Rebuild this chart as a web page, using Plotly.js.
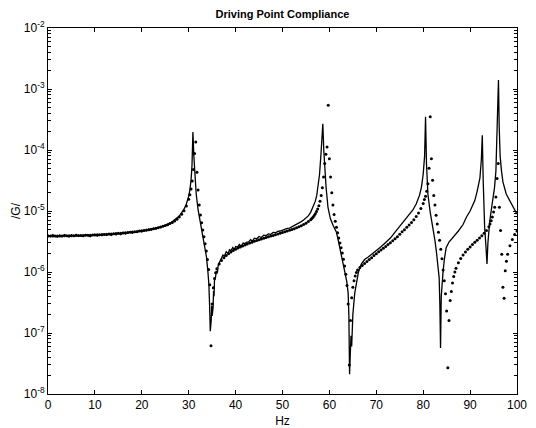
<!DOCTYPE html>
<html>
<head>
<meta charset="utf-8">
<script src="https://cdn.plot.ly/plotly-3.0.1.min.js"></script>
<style>html,body{margin:0;padding:0;background:#fff;}#chart{width:536px;height:428px;}</style>
</head>
<body>
<div id="chart"></div>
<script>
// Measured driving point compliance (solid line)
const measFreq = [0,0.5,1,1.5,2,2.5,3,3.5,4,4.5,5,5.5,6,6.5,7,7.5,8,8.5,9,9.5,10,10.5,11,11.5,12,12.5,13,13.5,14,14.5,15,15.5,16,16.5,17,17.5,18,18.5,19,19.5,20,20.5,21,21.5,22,22.5,23,23.5,24,24.5,25,25.5,26,26.5,27,27.5,28,28.5,29,29.5,29.75,30,30.25,30.5,30.7,30.9,31.1,31.3,31.6,32.0,32.3,32.7,33.0,33.4,33.8,34.1,34.3,34.45,34.6,34.8,34.9,35.0,35.2,35.3,35.4,35.5,35.7,35.9,36.1,36.3,36.6,36.9,37.3,37.6,38.0,38.4,38.7,39.0,39.4,39.7,40.0,40.4,40.8,41.2,41.6,42.0,42.4,42.8,43.2,43.6,44.0,44.5,45.0,45.5,46.0,46.5,47.0,47.5,48.0,48.5,49.0,49.5,50.0,50.5,51.0,51.5,52.0,52.5,53.0,53.5,54.0,54.5,55.0,55.5,56.0,56.5,57.0,57.3,57.6,57.9,58.2,58.4,58.6,58.8,59.0,59.3,59.7,60.2,60.8,61.5,62.0,62.5,62.9,63.3,63.7,64.0,64.15,64.3,64.45,64.6,64.75,65.0,65.4,65.8,66.2,66.8,67.5,68.2,69,70,71,72,73,74,75,76,77,77.8,78.5,79.2,79.6,80.0,80.3,80.5,80.7,81.0,81.5,82.1,82.5,82.8,83.1,83.4,83.55,83.7,83.85,84.0,84.2,84.5,84.9,85.5,86.4,87.5,88.5,89.2,90.0,90.5,91.0,91.5,92.1,92.4,92.6,92.8,93.1,93.4,93.6,93.8,94.2,94.7,95.2,95.5,95.7,95.9,96.05,96.2,96.4,96.7,97.0,97.7,98.8,100];
const measG = [4.05e-6,3.8e-6,4.1e-6,3.85e-6,3.75e-6,4.05e-6,3.82e-6,4.12e-6,3.88e-6,3.75e-6,4.08e-6,3.86e-6,4.15e-6,3.82e-6,4.02e-6,3.8e-6,4.12e-6,3.9e-6,3.78e-6,4.08e-6,4.15e-6,3.88e-6,4.12e-6,3.92e-6,4.22e-6,3.96e-6,4.2e-6,3.98e-6,4.28e-6,4.05e-6,4.33e-6,4.1e-6,4.45e-6,4.18e-6,4.4e-6,4.58e-6,4.33e-6,4.62e-6,4.45e-6,4.75e-6,4.55e-6,4.9e-6,4.7e-6,5.05e-6,4.88e-6,5.2e-6,5.08e-6,5.42e-6,5.35e-6,5.7e-6,5.75e-6,6.1e-6,6.25e-6,6.75e-6,7.05e-6,7.7e-6,8.25e-6,9.4e-6,1.07e-5,1.3e-5,1.5e-5,1.75e-5,2.2e-5,3.2e-5,5.5e-5,1.97e-4,8.0e-5,4.0e-5,1.9e-5,1.05e-5,7.9e-6,5.0e-6,3.7e-6,2.5e-6,1.74e-6,1.0e-6,6.3e-7,3.0e-7,1.07e-7,1.6e-7,2.8e-7,1.9e-7,2.6e-7,4.9e-7,4.0e-7,7.3e-7,8.0e-7,1.05e-6,0.95e-6,1.3e-6,1.45e-6,1.68e-6,1.9e-6,1.82e-6,2.15e-6,2.0e-6,2.32e-6,2.25e-6,2.52e-6,2.32e-6,2.62e-6,2.55e-6,2.82e-6,2.65e-6,2.98e-6,2.92e-6,3.1e-6,3.12e-6,3.4e-6,3.2e-6,3.58e-6,3.5e-6,3.82e-6,3.68e-6,4.02e-6,3.95e-6,4.22e-6,4.15e-6,4.45e-6,4.4e-6,4.65e-6,4.7e-6,4.88e-6,4.95e-6,5.18e-6,5.25e-6,5.5e-6,5.7e-6,5.95e-6,6.3e-6,6.7e-6,7.1e-6,7.6e-6,8.3e-6,9.5e-6,1.15e-5,1.45e-5,1.8e-5,2.6e-5,4.0e-5,8.5e-5,1.5e-4,2.7e-4,1.0e-4,4.8e-5,2.4e-5,1.15e-5,7.5e-6,5.8e-6,4.5e-6,3.0e-6,2.0e-6,1.35e-6,9.5e-7,7.0e-7,4.5e-7,2.0e-7,2.1e-8,5.0e-8,9.0e-8,6.0e-8,2.0e-7,4.5e-7,7.3e-7,1.0e-6,1.35e-6,1.6e-6,1.74e-6,1.95e-6,2.2e-6,2.6e-6,3.05e-6,3.6e-6,4.5e-6,5.6e-6,6.8e-6,8.4e-6,1.04e-5,1.3e-5,1.8e-5,2.4e-5,4.0e-5,8.0e-5,3.5e-4,6.0e-5,1.9e-5,9.5e-6,5.4e-6,3.3e-6,2.2e-6,1.4e-6,8.1e-7,3.0e-7,5.7e-8,4.0e-7,6.5e-7,9.3e-7,1.6e-6,2.5e-6,3.1e-6,3.7e-6,4.7e-6,6.0e-6,7.9e-6,1.0e-5,1.2e-5,1.48e-5,2.1e-5,3.5e-5,7.0e-5,1.74e-4,3.0e-5,5.4e-6,2.5e-6,1.35e-6,3.0e-6,6.9e-6,1.3e-5,2.4e-5,4.5e-5,1.26e-4,3.0e-4,1.4e-3,2.5e-4,8.0e-5,4.5e-5,3.0e-5,1.9e-5,1.3e-5,8.9e-6];

// Model compliance (dots)
const modelFreq = [0,0.5,1,1.5,2,2.5,3,3.5,4,4.5,5,5.5,6,6.5,7,7.5,8,8.5,9,9.5,10,10.5,11,11.5,12,12.5,13,13.5,14,14.5,15,15.5,16,16.5,17,17.5,18,18.5,19,19.5,20,20.5,21,21.5,22,22.5,23,23.5,24,24.5,25,25.5,26,26.5,27,27.5,28,28.5,29,29.5,
30,30.25,30.5,30.75,31,31.25,31.5,31.75,32,32.25,32.5,32.75,33,33.25,33.5,33.75,34,34.25,34.5,34.75,35,35.25,35.5,35.75,36,
36.5,37,37.5,38,38.5,39,39.5,40,40.5,41,41.5,42,42.5,43,43.5,44,44.5,45,45.5,46,46.5,47,47.5,48,48.5,49,49.5,50,50.5,51,51.5,52,52.5,53,53.5,54,54.5,55,55.5,56,
56.25,56.5,56.75,57,57.25,57.5,57.75,58,58.25,58.5,58.75,59,59.25,59.5,59.75,60,60.25,60.5,60.75,61,61.25,61.5,61.75,62,62.25,62.5,62.75,63,63.25,63.5,63.75,64,64.25,64.5,64.75,65,65.25,65.5,65.75,66,
66.5,67,67.5,68,68.5,69,69.5,70,70.5,71,71.5,72,72.5,73,73.5,74,74.5,75,75.5,76,76.5,77,77.5,78,78.5,79,79.5,80,
80.25,80.5,80.75,81,81.25,81.5,81.75,82,82.25,82.5,82.75,83,83.25,83.5,83.75,84,84.25,84.5,84.75,85,85.25,85.5,85.75,86,86.25,86.5,86.75,87,
87.5,88,88.5,89,89.5,90,90.5,91,91.5,92,92.5,93,93.5,94,
94.25,94.5,94.75,95,95.25,95.5,95.75,96,96.25,96.5,96.75,97,97.25,97.5,97.75,98,
98.5,99,99.5,100];
const modelG = [3.90e-6,3.90e-6,3.90e-6,3.90e-6,3.91e-6,3.91e-6,3.91e-6,3.92e-6,3.92e-6,3.93e-6,3.93e-6,3.94e-6,3.95e-6,3.96e-6,3.97e-6,3.98e-6,3.99e-6,4.00e-6,4.02e-6,4.03e-6,4.05e-6,4.07e-6,4.09e-6,4.11e-6,4.13e-6,4.16e-6,4.18e-6,4.21e-6,4.24e-6,4.27e-6,4.30e-6,4.33e-6,4.37e-6,4.40e-6,4.44e-6,4.48e-6,4.53e-6,4.58e-6,4.63e-6,4.68e-6,4.74e-6,4.80e-6,4.87e-6,4.94e-6,5.02e-6,5.11e-6,5.21e-6,5.32e-6,5.45e-6,5.60e-6,5.77e-6,5.97e-6,6.21e-6,6.50e-6,6.87e-6,7.35e-6,7.98e-6,8.85e-6,1.01e-5,1.21e-5,
1.56e-5,1.85e-5,2.3e-5,3.1e-5,4.8e-5,8.8e-5,1.35e-4,4.3e-5,2.2e-5,1.25e-5,8.6e-6,6.4e-6,4.9e-6,3.8e-6,2.9e-6,2.2e-6,1.6e-6,1.1e-6,6.2e-7,6.2e-8,3.0e-7,5.5e-7,7.8e-7,9.7e-7,1.13e-6,
1.35e-6,1.55e-6,1.72e-6,1.87e-6,2.0e-6,2.13e-6,2.25e-6,2.36e-6,2.47e-6,2.58e-6,2.68e-6,2.78e-6,2.88e-6,2.98e-6,3.08e-6,3.18e-6,3.28e-6,3.38e-6,3.48e-6,3.58e-6,3.68e-6,3.78e-6,3.88e-6,3.98e-6,4.09e-6,4.20e-6,4.31e-6,4.43e-6,4.55e-6,4.68e-6,4.82e-6,4.97e-6,5.13e-6,5.31e-6,5.51e-6,5.74e-6,6.0e-6,6.3e-6,6.7e-6,7.2e-6,
7.5e-6,7.9e-6,8.4e-6,9.0e-6,9.8e-6,1.08e-5,1.22e-5,1.45e-5,1.8e-5,2.4e-5,3.6e-5,6.0e-5,8.5e-5,1.12e-4,5.4e-4,7.2e-5,3.6e-5,2.0e-5,1.25e-5,8.8e-6,6.8e-6,5.4e-6,4.4e-6,3.6e-6,3.0e-6,2.5e-6,2.05e-6,1.62e-6,1.25e-6,9.2e-7,6.0e-7,3.0e-7,3.0e-8,1.6e-7,3.8e-7,5.6e-7,7.2e-7,8.6e-7,9.8e-7,1.08e-6,
1.18e-6,1.28e-6,1.38e-6,1.48e-6,1.6e-6,1.72e-6,1.86e-6,2.0e-6,2.15e-6,2.3e-6,2.46e-6,2.63e-6,2.82e-6,3.02e-6,3.24e-6,3.5e-6,3.8e-6,4.15e-6,4.55e-6,4.95e-6,5.4e-6,5.9e-6,6.5e-6,7.2e-6,8.1e-6,9.3e-6,1.1e-5,1.33e-5,
1.55e-5,1.75e-5,2.1e-5,2.8e-5,5.0e-5,3.5e-4,7.2e-5,3.2e-5,1.8e-5,1.25e-5,8.5e-6,6.1e-6,4.5e-6,3.3e-6,2.35e-6,1.65e-6,1.08e-6,7.2e-7,4.4e-7,2.3e-7,2.7e-8,1.6e-7,3.4e-7,4.8e-7,6.6e-7,8.4e-7,1.0e-6,1.15e-6,
1.42e-6,1.66e-6,1.9e-6,2.12e-6,2.35e-6,2.58e-6,2.82e-6,3.06e-6,3.32e-6,3.6e-6,3.92e-6,4.3e-6,4.8e-6,5.5e-6,
6.1e-6,6.9e-6,8.0e-6,9.6e-6,1.15e-5,1.7e-5,3.4e-5,6.0e-5,1.15e-5,4.8e-6,1.95e-6,5.6e-7,3.7e-7,1.05e-6,1.5e-6,1.95e-6,
2.7e-6,3.4e-6,4.1e-6,4.7e-6];

const xTickVals = [0,10,20,30,40,50,60,70,80,90,100];
const yTickVals = [1e-8,1e-7,1e-6,1e-5,1e-4,1e-3,1e-2];
const yTickText = ['10<sup>-8</sup>','10<sup>-7</sup>','10<sup>-6</sup>','10<sup>-5</sup>','10<sup>-4</sup>','10<sup>-3</sup>','10<sup>-2</sup>'];
const chartTitle = 'Driving Point Compliance';
const xLabel = 'Hz';
const yLabel = '/G/';

const FONT = 'Liberation Sans, Arial, Helvetica, sans-serif';

const traces = [
  {x: measFreq, y: measG, type: 'scatter', mode: 'lines',
   line: {color: '#000', width: 1.3}, hoverinfo: 'skip', showlegend: false},
  {x: modelFreq, y: modelG, type: 'scatter', mode: 'markers',
   marker: {color: '#000', size: 3, symbol: 'circle'}, hoverinfo: 'skip', showlegend: false}
];

const layout = {
  width: 536, height: 428,
  margin: {l: 48, r: 19, t: 28, b: 34, pad: 0},
  paper_bgcolor: '#fff', plot_bgcolor: '#fff',
  font: {family: FONT, color: '#000', size: 12},
  title: {text: '<b>' + chartTitle + '</b>', font: {size: 11, family: FONT, color: '#000'},
          x: 0.5, xref: 'paper', xanchor: 'center', y: 1 - 14/428, yref: 'container', yanchor: 'middle'},
  xaxis: {
    range: [0, 100], tickvals: xTickVals, ticktext: xTickVals.map(String),
    ticks: 'inside', ticklen: 4, tickcolor: '#000', tickwidth: 1,
    showline: true, linecolor: '#000', linewidth: 1, mirror: 'allticks',
    showgrid: false, zeroline: false, automargin: false,
    tickfont: {size: 12, family: FONT, color: '#000'},
    title: {text: xLabel, font: {size: 12, family: FONT, color: '#000'}, standoff: 5}
  },
  yaxis: {
    type: 'log', range: [-8, -2], tickvals: yTickVals, ticktext: yTickText,
    ticks: 'inside', ticklen: 4, tickcolor: '#000', tickwidth: 1,
    minor: {ticks: 'inside', ticklen: 3, tickcolor: '#000', dtick: 'D1', showgrid: false},
    showline: true, linecolor: '#000', linewidth: 1, mirror: 'allticks',
    showgrid: false, zeroline: false, automargin: false,
    tickfont: {size: 12, family: FONT, color: '#000'},
    title: {text: yLabel, font: {size: 12, family: FONT, color: '#000'}, standoff: 0}
  }
};

Plotly.newPlot('chart', traces, layout, {staticPlot: true, displayModeBar: false});
</script>
</body>
</html>
